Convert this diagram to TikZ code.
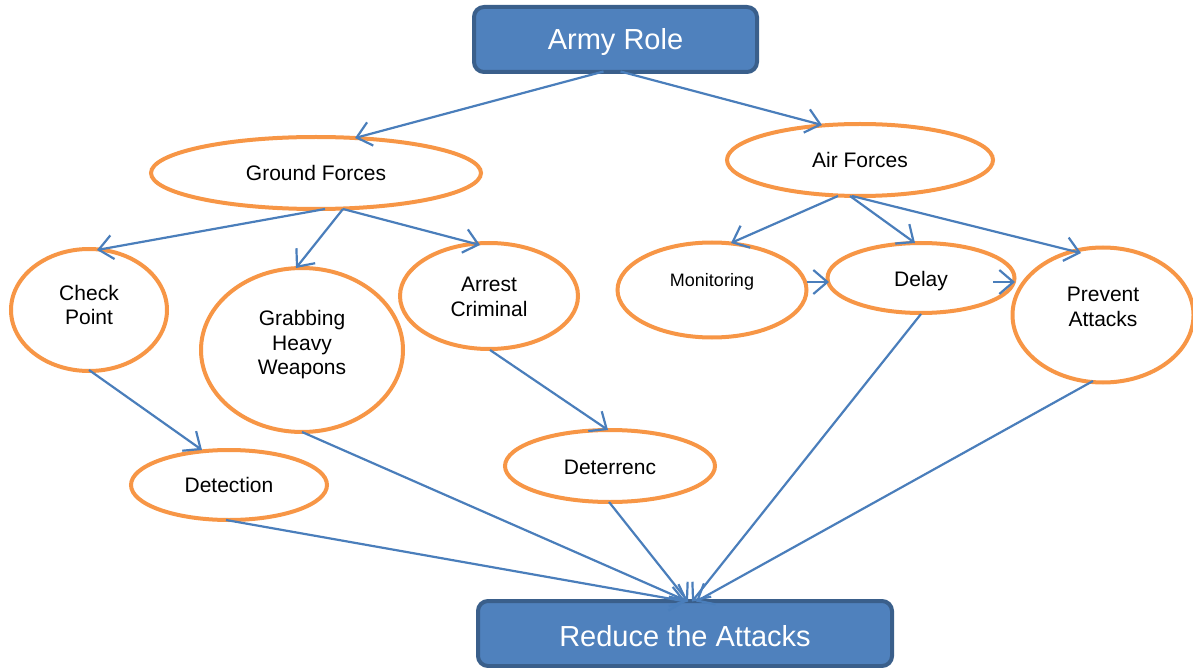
\documentclass[tikz,border=0pt]{standalone}
\usepackage{fontspec}
\setmainfont{Liberation Sans}
\usetikzlibrary{shapes.geometric,arrows.meta}
\definecolor{boxfill}{HTML}{4F81BD}
\definecolor{boxline}{HTML}{3A5F8B}
\definecolor{ovl}{HTML}{F79646}
\definecolor{edge}{HTML}{4A7EBB}
\tikzset{
  rolebox/.style={draw=boxline, line width=4pt, fill=boxfill, rounded corners=10pt, inner sep=0pt},
  roletext/.style={text=white, font=\fontsize{29}{33}\selectfont, inner sep=0pt},
  oval/.style={ellipse, draw=ovl, line width=4pt, fill=white, inner sep=0pt},
  ovtext/.style={inner sep=0pt, align=center, font=\fontsize{21}{24.5}\selectfont},
  link/.style={draw=edge, line width=2.2pt, -{Straight Barb[length=14pt,width=24pt,line width=2.2pt]}}
}
\begin{document}
\begin{tikzpicture}[x=1pt,y=-1pt]
\useasboundingbox (0,0) rectangle (1193,668);
% top and bottom boxes
\node[rolebox, minimum width=283pt, minimum height=65pt] (ar) at (615.5,39.5) {};
\node[roletext] (art) at ([yshift=-3pt]ar.center) {Army Role};
\node[rolebox, minimum width=414pt, minimum height=65pt] (rd) at (685,633.5) {};
\node[roletext] (rdt) at ([yshift=-3pt]rd.center) {Reduce the Attacks};
% ellipses
\node[oval, minimum width=330pt, minimum height=72pt] (gf) at (316,173) {};
\node[ovtext] (gft) at (gf.center) {Ground Forces};
\node[oval, minimum width=266pt, minimum height=72pt] (af) at (860,160) {};
\node[ovtext] (aft) at (af.center) {Air Forces};
\node[oval, minimum width=156pt, minimum height=122pt] (cp) at (89,310) {};
\node[ovtext] (cpt) at ([yshift=5pt]cp.center) {Check\\Point};
\node[oval, minimum width=202pt, minimum height=164pt] (gh) at (302,350) {};
\node[ovtext] (ght) at ([yshift=5pt]gh.center) {Grabbing\\Heavy\\Weapons};
\node[oval, minimum width=178pt, minimum height=106pt] (ac) at (489,296) {};
\node[ovtext] (act) at ([yshift=-1pt]ac.center) {Arrest\\Criminal};
\node[oval, minimum width=189pt, minimum height=95pt] (mo) at (712,290) {};
\node[ovtext, font=\fontsize{18}{21}\selectfont] (mot) at ([yshift=8pt]mo.center) {Monitoring};
\node[oval, minimum width=187pt, minimum height=70pt] (dl) at (921,278) {};
\node[ovtext] (dlt) at ([yshift=-3pt]dl.center) {Delay};
\node[oval, minimum width=181pt, minimum height=135pt] (pa) at (1103,315) {};
\node[ovtext] (pat) at ([yshift=8pt]pa.center) {Prevent\\Attacks};
\node[oval, minimum width=196pt, minimum height=70pt] (dt) at (229,485) {};
\node[ovtext] (dtt) at (dt.center) {Detection};
\node[oval, minimum width=210pt, minimum height=72pt] (de) at (610,466) {};
\node[ovtext] (det) at ([yshift=-1pt]de.center) {Deterrenc};
% connectors
\draw[link] ([shift={(-12,32)}]ar.center) -- ([shift={(39,-35)}]gf.center);
\draw[link] ([shift={(5,32)}]ar.center) -- ([shift={(-38,-35)}]af.center);
\draw[link] ([shift={(9,36)}]gf.center) -- ([shift={(8,-60)}]cp.center);
\draw[link] ([shift={(27,36)}]gf.center) -- ([shift={(-6,-82)}]gh.center);
\draw[link] ([shift={(27,36)}]gf.center) -- ([shift={(-9,-51)}]ac.center);
\draw[link] ([shift={(-22,36)}]af.center) -- ([shift={(19,-47)}]mo.center);
\draw[link] ([shift={(-10,36)}]af.center) -- ([shift={(-6,-35)}]dl.center);
\draw[link] ([shift={(-8,36)}]af.center) -- ([shift={(-22,-62)}]pa.center);
\draw[link] ([shift={(95,-8)}]mo.center) -- ([shift={(-92,4)}]dl.center);
\draw[link] ([shift={(72,4)}]dl.center) -- ([shift={(-88,-33)}]pa.center);
\draw[link] ([shift={(0,60)}]cp.center) -- ([shift={(-27,-35)}]dt.center);
\draw[link] ([shift={(1,54)}]ac.center) -- ([shift={(-2,-36)}]de.center);
\draw[link] ([shift={(0,82)}]gh.center) -- ([shift={(3,-32)}]rd.center);
\draw[link] ([shift={(-3,35)}]dt.center) -- ([shift={(1,-32)}]rd.center);
\draw[link] ([shift={(-1,36)}]de.center) -- ([shift={(3,-32)}]rd.center);
\draw[link] ([shift={(0,36)}]dl.center) -- ([shift={(7,-32)}]rd.center);
\draw[link] ([shift={(-10,66)}]pa.center) -- ([shift={(11,-32)}]rd.center);
\end{tikzpicture}
\end{document}
